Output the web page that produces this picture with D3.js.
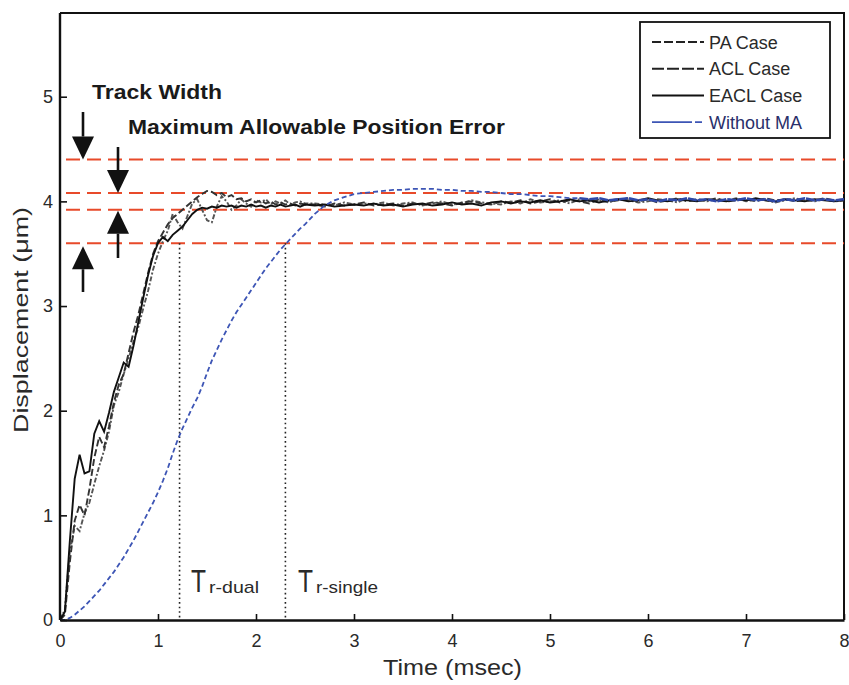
<!DOCTYPE html>
<html><head><meta charset="utf-8">
<script src="https://cdn.jsdelivr.net/npm/d3@7"></script>
<style>
body{margin:0;background:#fff;}
text{font-family:"Liberation Sans",Arial,Helvetica,sans-serif;}
</style></head>
<body><svg id="chart" width="849" height="685"></svg>
<script>
// ---------------- data ----------------
const time = [0,0.05,0.1,0.15,0.2,0.25,0.3,0.35,0.4,0.45,0.5,0.55,0.6,0.65,0.7,0.75,0.8,0.85,0.9,0.95,
  1,1.05,1.1,1.15,1.2,1.25,1.3,1.35,1.4,1.45,1.5,1.55,1.6,1.65,1.7,1.75,1.8,1.85,1.9,1.95,
  2,2.05,2.1,2.15,2.2,2.25,2.3,2.35,2.4,2.45,2.5,
  2.6,2.7,2.8,2.9,3.0,3.1,3.2,3.3,3.4,3.5,3.6,3.7,3.8,3.9,4.0,4.1,4.2,4.3,4.4,4.5,
  4.6,4.7,4.8,4.9,5.0,5.1,5.2,5.3,5.4,5.5,5.6,5.7,5.8,5.9,6.0,6.1,6.2,6.3,6.4,6.5,
  6.6,6.7,6.8,6.9,7.0,7.1,7.2,7.3,7.4,7.5,7.6,7.7,7.8,7.9,8.0];

const paCase = [0,0.10,0.65,0.90,0.85,1.02,1.12,1.30,1.47,1.62,
  1.80,2.05,2.18,2.35,2.50,2.66,2.80,2.98,3.15,3.35,
  3.50,3.62,3.72,3.88,3.80,3.74,3.86,3.98,4.02,3.92,
  3.82,3.80,3.95,4.05,4.00,3.92,3.96,4.02,3.98,3.95,
  4.01,3.99,4.02,3.97,4.00,3.98,4.01,3.97,3.99,4.00,3.98,
  3.98,3.97,3.96,3.99,3.97,3.98,3.97,3.99,3.96,3.98,
  3.99,3.96,3.98,4.00,3.97,3.98,4.01,3.99,3.98,3.97,
  4.00,3.98,4.02,3.99,4.00,4.01,3.98,4.02,4.00,4.01,
  3.99,4.02,4.01,3.99,4.00,4.02,4.01,3.99,4.03,4.01,
  4.00,4.02,4.01,4.03,4.00,4.02,4.01,3.99,4.01,4.03,
  4.01,4.00,4.02,4.00,4.01];

const aclCase = [0,0.05,0.55,0.95,1.10,1.00,1.25,1.55,1.75,1.65,
  1.85,2.08,2.25,2.35,2.55,2.75,2.92,3.12,3.32,3.50,
  3.62,3.70,3.78,3.84,3.88,3.92,3.96,4.00,4.04,4.07,
  4.10,4.09,4.06,4.08,4.04,4.06,4.02,4.03,4.00,4.02,
  3.99,4.01,3.98,4.00,3.97,3.99,3.97,3.98,3.96,3.98,3.97,
  3.97,3.95,3.98,3.96,3.97,3.99,3.96,3.97,3.98,3.96,
  3.98,3.97,3.99,3.98,3.96,3.99,4.00,3.98,3.97,4.00,
  3.99,4.01,3.98,4.00,4.02,3.99,4.01,4.00,3.98,4.02,
  4.00,4.01,4.03,4.00,4.02,3.99,4.01,4.03,4.00,4.02,
  4.01,4.03,4.00,4.01,4.02,4.00,4.03,4.01,4.02,4.00,
  4.02,4.01,4.03,4.01,4.02];

const eaclCase = [0,0.08,0.75,1.35,1.58,1.40,1.42,1.78,1.90,1.80,
  1.98,2.18,2.32,2.46,2.42,2.62,2.85,3.08,3.30,3.48,
  3.60,3.66,3.62,3.68,3.72,3.76,3.82,3.88,3.92,3.94,
  3.93,3.95,3.94,3.96,3.95,3.96,3.94,3.96,3.95,3.97,
  3.95,3.96,3.94,3.96,3.95,3.97,3.95,3.96,3.97,3.95,3.97,
  3.96,3.97,3.95,3.96,3.97,3.96,3.98,3.96,3.97,3.95,
  3.97,3.98,3.96,3.97,3.99,3.97,3.98,3.96,3.99,4.00,
  3.98,4.00,3.99,4.01,3.99,4.00,4.02,4.00,4.01,3.99,
  4.01,4.02,4.00,4.01,4.03,4.01,4.00,4.02,4.01,4.00,
  4.02,4.01,4.00,4.02,4.01,4.03,4.01,4.00,4.02,4.01,
  4.00,4.02,4.01,4.00,4.01];

const withoutMA = [0,0,0.02,0.05,0.09,0.13,0.18,0.23,0.28,0.34,
  0.40,0.46,0.53,0.60,0.68,0.76,0.85,0.94,1.03,1.12,
  1.22,1.33,1.45,1.59,1.72,1.83,1.93,2.03,2.12,2.23,
  2.36,2.48,2.58,2.68,2.77,2.86,2.94,3.01,3.08,3.15,
  3.22,3.29,3.36,3.42,3.48,3.54,3.59,3.64,3.69,3.74,3.78,
  3.88,3.96,4.01,4.04,4.07,4.08,4.09,4.10,4.11,4.11,
  4.12,4.12,4.12,4.11,4.11,4.10,4.10,4.09,4.09,4.08,
  4.07,4.07,4.06,4.05,4.05,4.04,4.03,4.03,4.02,4.03,
  4.01,4.02,4.03,4.01,4.02,4.00,4.02,4.01,4.03,4.01,
  4.02,4.00,4.02,4.01,4.03,4.01,4.02,4.00,4.02,4.01,
  4.03,4.01,4.02,4.01,4.02];

const seriesNames = ["PA Case","ACL Case","EACL Case","Without MA"];
const xTicks = [0,1,2,3,4,5,6,7,8];
const yTicks = [0,1,2,3,4,5];
const trackWidthLimits = [4.4, 3.6];
const positionErrorLimits = [4.08, 3.92];
const riseTimes = [1.22, 2.3];
const riseLabels = [["T","r-dual"],["T","r-single"]];
const xLabel = "Time (msec)";
const yLabel = "Displacement (\u03bcm)";
const annTrack = "Track Width";
const annError = "Maximum Allowable Position Error";

// ---------------- drawing ----------------
const svg = d3.select("#chart");
const x = d3.scaleLinear().domain([0,8]).range([60,844]);
const y = d3.scaleLinear().domain([0,5.8]).range([620,13]);

// frame (top & right)
svg.append("path").attr("d",`M${x(0)},${y(5.8)}H${x(8)}V${y(0)}`)
  .attr("fill","none").attr("stroke","#111").attr("stroke-width",2);

// red limit lines
const limits = trackWidthLimits.concat(positionErrorLimits);
svg.selectAll(".lim").data(limits).enter().append("line")
  .attr("x1",x(0)+6).attr("x2",x(8)).attr("y1",d=>y(d)).attr("y2",d=>y(d))
  .attr("stroke","#e84a2a").attr("stroke-width",2.2).attr("stroke-dasharray","14,7");

// rise-time dotted lines
svg.selectAll(".rt").data(riseTimes).enter().append("line")
  .attr("x1",d=>x(d)).attr("x2",d=>x(d)).attr("y1",y(3.6)).attr("y2",y(0))
  .attr("stroke","#222").attr("stroke-width",1.6).attr("stroke-dasharray","1.6,3");

// curves
function mk(vals){ return time.map((t,i)=>[t,vals[i]]); }
const line = d3.line().x(d=>x(d[0])).y(d=>y(d[1]));
const styles = [
  {vals:paCase, color:"#555", dash:"5,2,2,2", w:1.9},
  {vals:aclCase, color:"#333", dash:"7,3", w:1.9},
  {vals:eaclCase, color:"#111", dash:null, w:1.9},
];
styles.forEach(s=>{
  svg.append("path").datum(mk(s.vals)).attr("d",line)
    .attr("fill","none").attr("stroke",s.color).attr("stroke-width",s.w)
    .attr("stroke-dasharray",s.dash);
});
const blueData = mk(withoutMA);
svg.append("path").datum(blueData.filter(d=>d[0]<=5.3)).attr("d",line)
  .attr("fill","none").attr("stroke","#3d55b5").attr("stroke-width",1.8)
  .attr("stroke-dasharray","5,3");
svg.append("path").datum(blueData.filter(d=>d[0]>=5.3)).attr("d",line)
  .attr("fill","none").attr("stroke","#2f48a8").attr("stroke-width",2.6)
  .attr("stroke-dasharray","9,1");

// axes
const xAxis = d3.axisBottom(x).tickValues(xTicks).tickFormat(d3.format("d"))
  .tickSizeInner(-6).tickSizeOuter(0).tickPadding(14);
const yAxis = d3.axisLeft(y).tickValues(yTicks).tickFormat(d3.format("d"))
  .tickSizeInner(-7).tickSizeOuter(0).tickPadding(7);
const gx = svg.append("g").attr("transform",`translate(0,${y(0)})`).call(xAxis);
const gy = svg.append("g").attr("transform",`translate(${x(0)},0)`).call(yAxis);
[gx,gy].forEach(g=>{
  g.select(".domain").attr("stroke","#111").attr("stroke-width",2.4);
  g.selectAll(".tick line").attr("stroke","#111").attr("stroke-width",1.6);
  g.selectAll(".tick text").attr("fill","#2a2a2a").style("font-size","18px")
    .style("font-family","'Liberation Sans',Arial,sans-serif");
});
gy.select(".domain").attr("d",`M0,${y(5.8)}V${y(0)}`);

// axis titles
svg.append("text").attr("x",383).attr("y",675).attr("textLength",139)
  .attr("lengthAdjust","spacingAndGlyphs").style("font-size","22px").attr("fill","#2a2a2a").text(xLabel);
svg.append("text").attr("transform","translate(28,433) rotate(-90)")
  .attr("textLength",226).attr("lengthAdjust","spacingAndGlyphs")
  .style("font-size","21px").attr("fill","#2a2a2a").text(yLabel);

// rise time labels
const rtPos = [{x:191, sx:209}, {x:298, sx:316}];
riseLabels.forEach((l,i)=>{
  svg.append("text").attr("x",rtPos[i].x).attr("y",592).attr("textLength",15)
    .attr("lengthAdjust","spacingAndGlyphs").style("font-size","32px").attr("fill","#2a2a2a").text(l[0]);
  svg.append("text").attr("x",rtPos[i].sx).attr("y",593)
    .attr("textLength", i===0?50:62).attr("lengthAdjust","spacingAndGlyphs")
    .style("font-size","17px").attr("fill","#2a2a2a").text(l[1]);
});

// annotations
svg.append("text").attr("x",92).attr("y",99).attr("textLength",130).attr("lengthAdjust","spacingAndGlyphs")
  .style("font-size","20px").style("font-weight","bold").attr("fill","#1a1a1a").text(annTrack);
svg.append("text").attr("x",128).attr("y",134).attr("textLength",377).attr("lengthAdjust","spacingAndGlyphs")
  .style("font-size","20px").style("font-weight","bold").attr("fill","#1a1a1a").text(annError);

function arrow(cx, tipY, tailY){
  const dir = tailY < tipY ? 1 : -1; // 1: pointing down
  const headLen = 23, halfW = 11;
  const baseY = tipY - dir*headLen;
  svg.append("line").attr("x1",cx).attr("x2",cx).attr("y1",tailY).attr("y2",baseY)
    .attr("stroke","#111").attr("stroke-width",2.6);
  svg.append("path").attr("d",`M${cx},${tipY}L${cx-halfW},${baseY}L${cx+halfW},${baseY}Z`).attr("fill","#111");
}
arrow(83, y(trackWidthLimits[0]), 112);
arrow(83, y(trackWidthLimits[1])+3, 292);
arrow(118, y(positionErrorLimits[0]), 147);
arrow(118, y(positionErrorLimits[1])+1, 258);

// legend
const lg = svg.append("g");
lg.append("rect").attr("x",640).attr("y",22).attr("width",190).attr("height",116)
  .attr("fill","#fff").attr("stroke","#111").attr("stroke-width",1.8);
const legStyles = [
  {color:"#222", dash:"9,3", w:2},
  {color:"#222", dash:"12,3", w:2},
  {color:"#111", dash:null, w:2},
  {color:"#3d55b5", dash:"40,3,7,3", w:1.6},
];
seriesNames.forEach((n,i)=>{
  const cy = 42 + i*26.7;
  lg.append("line").attr("x1",652).attr("x2",704).attr("y1",cy).attr("y2",cy)
    .attr("stroke",legStyles[i].color).attr("stroke-width",legStyles[i].w)
    .attr("stroke-dasharray",legStyles[i].dash);
  lg.append("text").attr("x",709).attr("y",cy+6.5).style("font-size","18px")
    .attr("fill",i===3?"#2a2f6a":"#2a2a2a").text(n);
});
</script></body></html>
